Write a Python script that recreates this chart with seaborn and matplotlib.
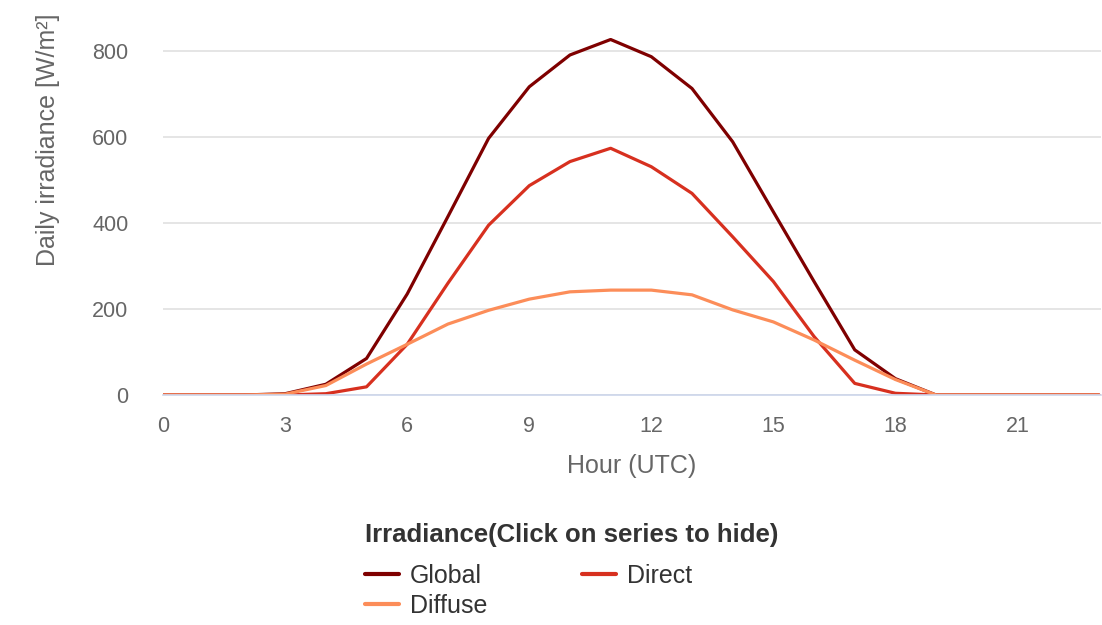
import pandas as pd
import numpy as np
import matplotlib
matplotlib.use("Agg")
import matplotlib.pyplot as plt
import seaborn as sns
from matplotlib.lines import Line2D

# hourly values (W/m2)
hours = list(range(24))
global_irr = [0, 0, 0, 3, 25, 85, 235, 415, 597, 717, 791, 827, 787, 713, 589, 426, 264, 105, 38, 0, 0, 0, 0, 0]
direct_irr = [0, 0, 0, 0, 3, 19, 118, 260, 395, 487, 543, 574, 531, 469, 368, 264, 136, 27, 4, 0, 0, 0, 0, 0]
diffuse_irr = [0, 0, 0, 2, 22, 72, 118, 165, 197, 223, 240, 244, 244, 233, 198, 170, 128, 81, 36, 0, 0, 0, 0, 0]

series_names = ["Global", "Direct", "Diffuse"]
series_colors = ["#7f0000", "#d7301f", "#fc8d59"]
x_ticks = [0, 3, 6, 9, 12, 15, 18, 21]
y_ticks = [0, 200, 400, 600, 800]

df = pd.DataFrame({
    "Hour": hours * 3,
    "Irradiance": global_irr + direct_irr + diffuse_irr,
    "Series": ["Global"] * 24 + ["Direct"] * 24 + ["Diffuse"] * 24,
})

sns.set_style("white")
plt.rcParams["font.family"] = ["Liberation Sans", "DejaVu Sans"]

fig = plt.figure(figsize=(11.02, 6.25), dpi=100)
ax = fig.add_axes([0.148, 0.368, 0.851, 0.619])

sns.lineplot(data=df, x="Hour", y="Irradiance", hue="Series",
             hue_order=series_names, palette=series_colors,
             linewidth=2.3, legend=False, ax=ax)

ax.set_xlim(0, 23.05)
ax.set_ylim(0, 900)
ax.set_xticks(x_ticks)
ax.set_yticks(y_ticks)
ax.grid(axis="y", color="#e0e0e0", linewidth=1.2)
ax.set_axisbelow(True)
for s in ["left", "top", "right"]:
    ax.spines[s].set_visible(False)
ax.spines["bottom"].set_color("#ccd6eb")
ax.spines["bottom"].set_linewidth(1.2)
ax.tick_params(axis="x", colors="#666666", labelsize=15.5, length=10, width=1.2,
               color="#ccd6eb", pad=5)
ax.tick_params(axis="y", colors="#666666", labelsize=15.5, length=0, pad=25)

ax.set_xlabel("Hour (UTC)", fontsize=18, color="#666666", labelpad=12)
ax.set_ylabel("Daily irradiance [W/m²]", fontsize=18, color="#666666")
ax.yaxis.set_label_coords(-0.110, 0.66)

# legend title drawn separately so the gap below it matches
fig.text(365 / 1102, 1 - 535 / 625, "Irradiance(Click on series to hide)",
         fontsize=18.5, fontweight="bold", color="#333333", va="center", ha="left")

# Global/Diffuse in the first column, Direct in the second
order = ["Global", "Diffuse", "Direct"]
handles = [Line2D([], [], color=series_colors[series_names.index(n)], linewidth=3) for n in order]
leg = fig.legend(handles, order, loc="upper left", bbox_to_anchor=(0.331, 0.098),
                 ncol=2, frameon=False, fontsize=18, handlelength=1.35, handletextpad=0.45,
                 columnspacing=3.8, labelspacing=0.25, borderpad=0, borderaxespad=0)
for t in leg.get_texts():
    t.set_color("#333333")

fig.savefig("out.png", dpi=100)
